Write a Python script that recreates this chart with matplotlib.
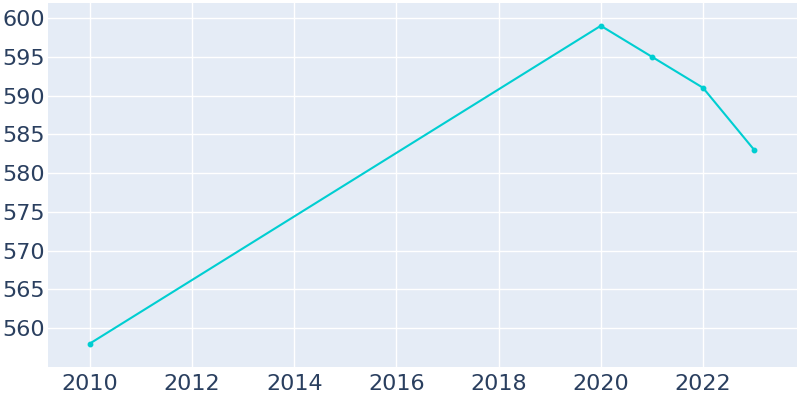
import matplotlib
matplotlib.use("Agg")
import matplotlib.pyplot as plt

years = [2010, 2020, 2021, 2022, 2023]
population = [558, 599, 595, 591, 583]
xticks = [2010, 2012, 2014, 2016, 2018, 2020, 2022]
yticks = [560, 565, 570, 575, 580, 585, 590, 595, 600]

plt.rcParams['font.family'] = ['DejaVu Sans']
fig = plt.figure(figsize=(8, 4), dpi=100)
ax = fig.add_axes([48/800, 1 - 367/400, (797-48)/800, (367-3)/400])
ax.set_facecolor('#E5ECF6')
ax.plot(years, population, color='#00CED1', linewidth=1.5, marker='o', markersize=3.2, zorder=3)
ax.set_xlim(2009.18, 2023.84)
ax.set_ylim(554.97, 601.94)
ax.set_xticks(xticks)
ax.set_yticks(yticks)
ax.grid(True, color='white', linewidth=1)
ax.set_axisbelow(True)
for s in ax.spines.values():
    s.set_visible(False)
ax.tick_params(length=0, labelsize=16, labelcolor='#2A3F5F', pad=5)
ax.tick_params(axis='y', pad=2)
fig.savefig('out.png', dpi=100)
